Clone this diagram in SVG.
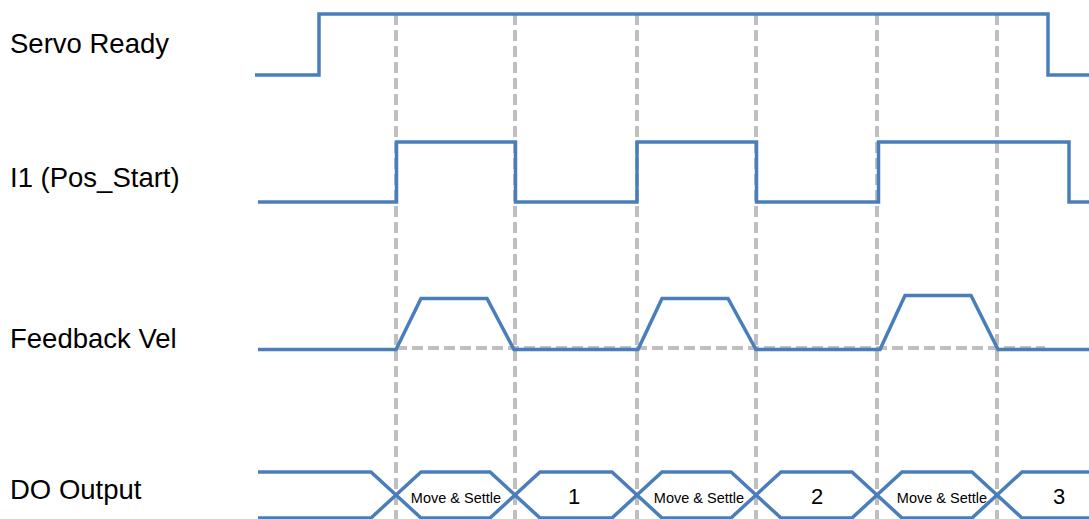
<svg xmlns="http://www.w3.org/2000/svg" width="1089" height="519" viewBox="0 0 1089 519">
<style>
.grid{stroke:#BFBFBF;stroke-width:4;stroke-dasharray:11 5;fill:none}
.sig{stroke:#4A7EBB;stroke-width:3.5;fill:none;stroke-linejoin:miter}
.lbl{font-family:"Liberation Sans",Arial,sans-serif;font-size:27.5px;fill:#000}
.ms{font-family:"Liberation Sans",Arial,sans-serif;font-size:14.5px;fill:#000;text-anchor:middle}
.num{font-family:"Liberation Sans",Arial,sans-serif;font-size:22px;fill:#000;text-anchor:middle}
</style>
<rect width="1089" height="519" fill="#fff"/>
<g id="connectors">
<g id="grid-lines" class="grid">
<line x1="396" y1="14" x2="396" y2="519"/>
<line x1="515" y1="14" x2="515" y2="519"/>
<line x1="637" y1="14" x2="637" y2="519"/>
<line x1="756" y1="14" x2="756" y2="519"/>
<line x1="877" y1="14" x2="877" y2="519"/>
<line x1="997" y1="14" x2="997" y2="519"/>
<line x1="396" y1="348" x2="1045" y2="348"/>
</g>
</g>
<g id="servo-ready">
<text class="lbl" x="10" y="53">Servo Ready</text>
<path class="sig" d="M255,75 H319 V14 H1048 V75 H1089"/>
</g>
<g id="i1-pos-start">
<text class="lbl" x="10" y="187">I1 (Pos_Start)</text>
<path class="sig" d="M258,202 H396.5 V142 H515.5 V202 H637 V142 H756.5 V202 H878.5 V142 H1069 V202 H1089"/>
</g>
<g id="feedback-vel">
<text class="lbl" x="10" y="348">Feedback Vel</text>
<path class="sig" d="M258,349.5 H396 L421,298.5 H487 L514,349.5 H638 L662,298.5 H728 L756,349.5 H880 L905,295.5 H971 L998,349.5 H1089"/>
</g>
<g id="do-output">
<text class="lbl" x="10" y="499">DO Output</text>
<path class="sig" d="M258,472 H371 L421,518 H490 L540,472 H612 L662,518 H731 L781,472 H852 L902,518 H972 L1022,472 H1089"/>
<path class="sig" d="M258,518 H371 L421,472 H490 L540,518 H612 L662,472 H731 L781,518 H852 L902,472 H972 L1022,518 H1089"/>
<text class="ms" x="456" y="503">Move &amp; Settle</text>
<text class="num" x="574" y="504">1</text>
<text class="ms" x="699" y="503">Move &amp; Settle</text>
<text class="num" x="817" y="504">2</text>
<text class="ms" x="942" y="503">Move &amp; Settle</text>
<text class="num" x="1059" y="504">3</text>
</g>
</svg>
